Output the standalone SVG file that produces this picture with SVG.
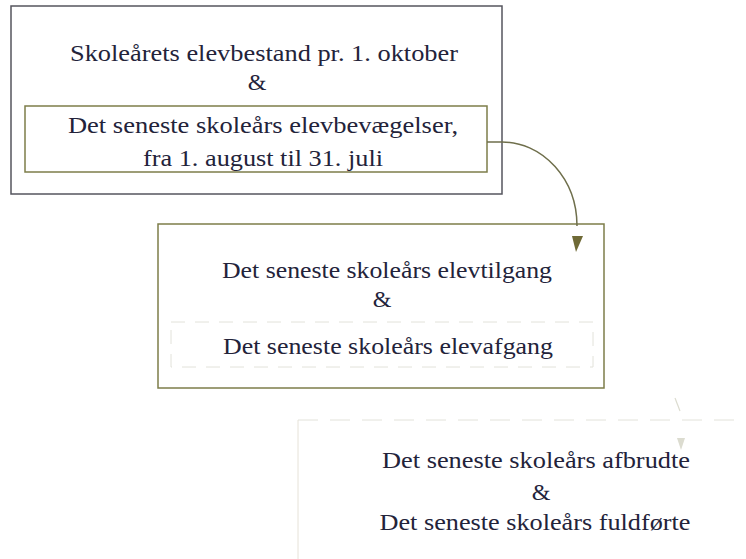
<svg xmlns="http://www.w3.org/2000/svg" width="746" height="559" viewBox="0 0 746 559">
<defs>
<style>
.t{font-family:'Liberation Serif','Times New Roman',Times,'DejaVu Serif',serif;font-size:24px;fill:#23233a;text-anchor:middle}
.outer{fill:none;stroke:#55555e;stroke-width:1.5}
.olive{fill:none;stroke:#7d7d4a;stroke-width:1.5}
.faint{fill:none;stroke:#e2e2da;stroke-width:1;stroke-dasharray:14 10}
.conn{fill:none;stroke:#6f6f4c;stroke-width:1.5}
</style>
</defs>
<rect width="746" height="559" fill="#ffffff"/>
<g id="node1">
<rect class="outer" x="11" y="6" width="491" height="188"/>
<text class="t" x="264" y="61" textLength="388" lengthAdjust="spacingAndGlyphs">Skoleårets elevbestand pr. 1. oktober</text>
<text class="t" x="257" y="90">&amp;</text>
<rect class="olive" x="25" y="106" width="462" height="66"/>
<text class="t" x="263" y="133" textLength="390" lengthAdjust="spacingAndGlyphs">Det seneste skoleårs elevbevægelser,</text>
<text class="t" x="263" y="166" textLength="240" lengthAdjust="spacingAndGlyphs">fra 1. august til 31. juli</text>
</g>
<g id="node2">
<rect class="olive" x="158" y="224" width="446" height="164"/>
<text class="t" x="387" y="278" textLength="330" lengthAdjust="spacingAndGlyphs">Det seneste skoleårs elevtilgang</text>
<text class="t" x="382" y="307">&amp;</text>
<rect class="faint" x="171" y="322" width="422" height="45"/>
<text class="t" x="388" y="354" textLength="330" lengthAdjust="spacingAndGlyphs">Det seneste skoleårs elevafgang</text>
</g>
<g id="node3">
<path d="M298,420 V559" fill="none" stroke="#e6e2d8" stroke-width="1"/>
<path d="M298,420 H746" fill="none" stroke="#e2e2da" stroke-width="1" stroke-dasharray="20 12"/>
<text class="t" x="536" y="468" textLength="308" lengthAdjust="spacingAndGlyphs">Det seneste skoleårs afbrudte</text>
<text class="t" x="541" y="500">&amp;</text>
<text class="t" x="535" y="530" textLength="311" lengthAdjust="spacingAndGlyphs">Det seneste skoleårs fuldførte</text>
</g>
<g id="connectors">
<path class="conn" d="M487,142 H502 A75,84 0 0 1 577,226"/>
<polygon points="572,236 583,236 576,252" fill="#6f6a36"/>
<path d="M675,398 L680,411" fill="none" stroke="#dcdcd0" stroke-width="1.2"/>
<polygon points="677,438 685,438 681,450" fill="#dcdcd0"/>
</g>
</svg>
